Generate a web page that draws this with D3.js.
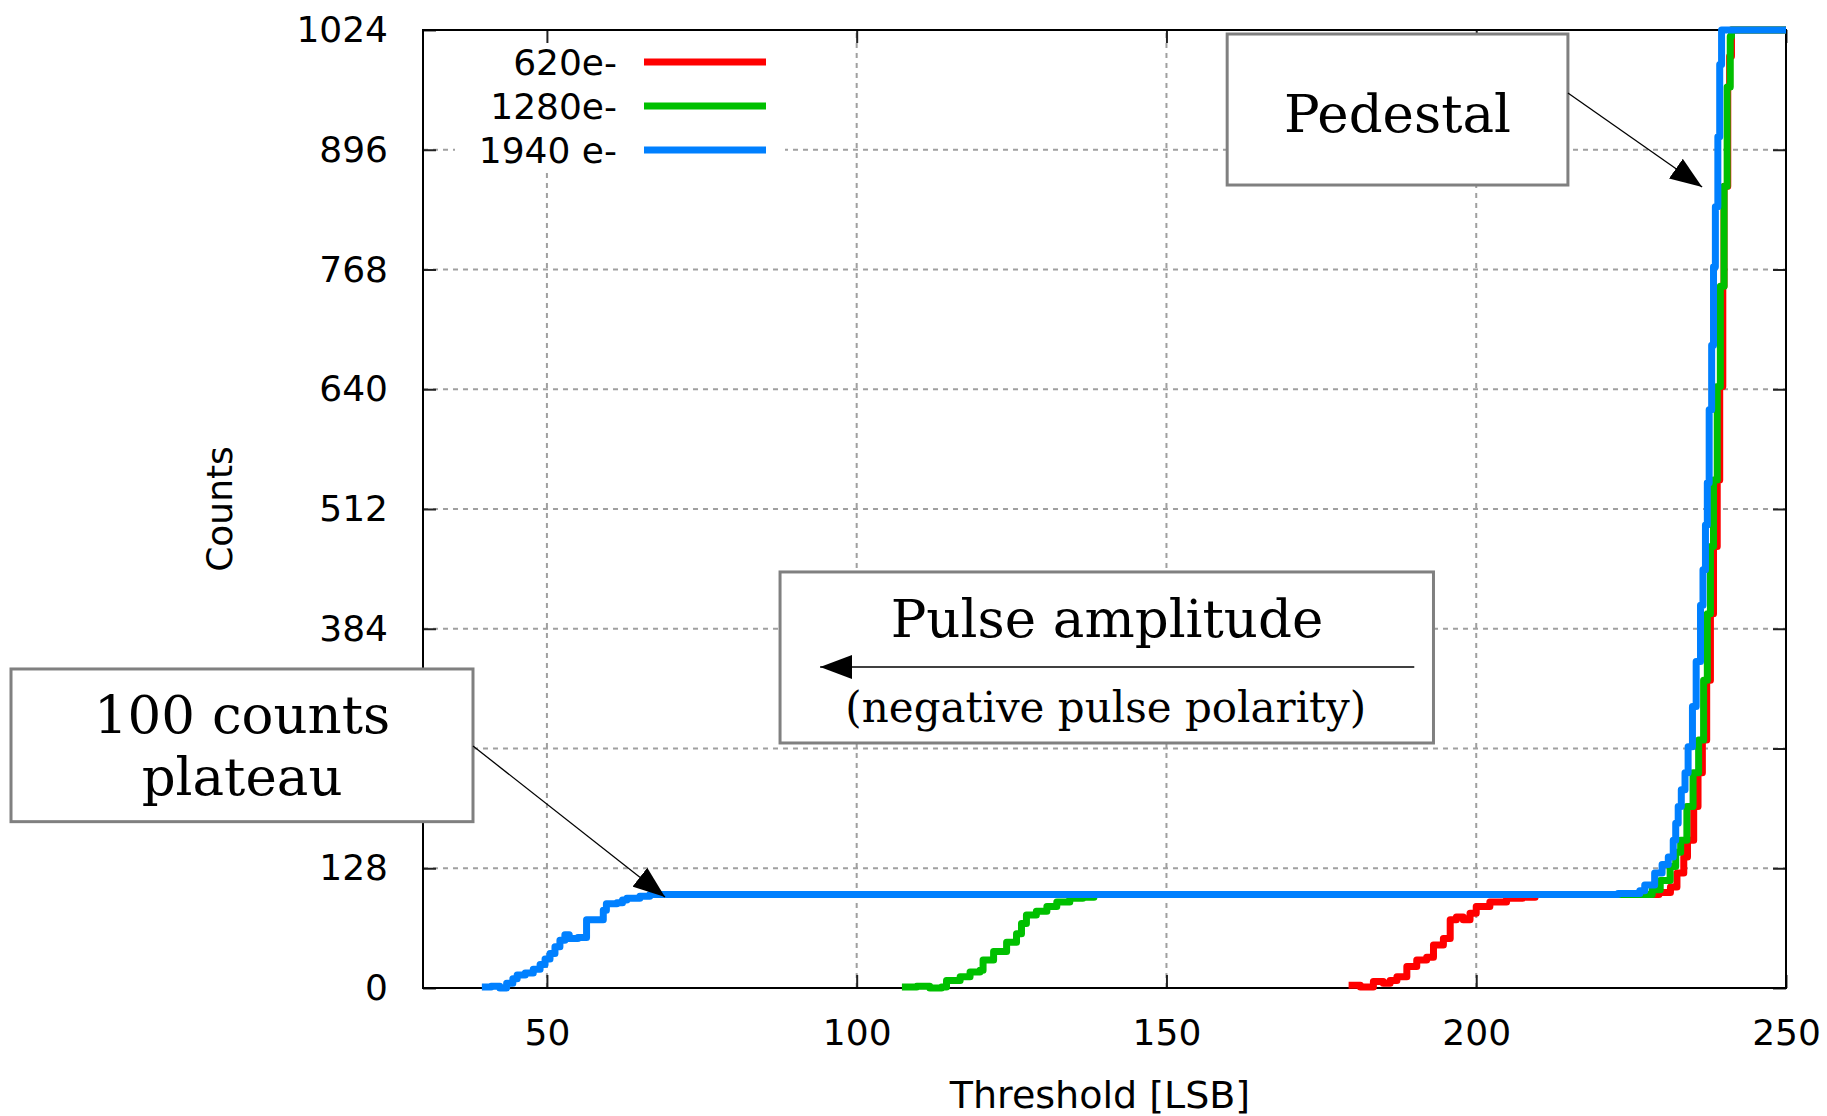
<!DOCTYPE html>
<html lang="en">
<head>
    <meta charset="utf-8">
    <title>Threshold scan</title>
    <script type="text/javascript" src="https://d3js.org/d3.v7.min.js"></script>
    <style>
        body { margin: 0; background: #fff; }
    </style>
</head>
<body>
    <script type="text/javascript">

        // series: threshold [LSB] and counts
        var seriesNames = ["620e-", "1280e-", "1940 e-"];
        var seriesColors = ["#ff0000", "#00c000", "#0080ff"];

        var redT = [179.4, 181.3, 183.4, 185.0, 186.1, 187.2, 188.8, 190.4, 192.0, 193.1, 194.7, 195.8, 196.8, 197.9, 199.0, 200.0, 202.2, 204.9, 207.5, 209.5,
                    229.5, 231.35, 232.4, 233.5, 234.1, 235.1, 235.8, 236.5, 237.2, 237.8, 238.3, 238.9, 239.3, 239.8, 240.0, 240.6, 240.9, 241.2, 250];
        var redC = [3, 1, 7, 5, 8, 12, 23, 30, 33, 46, 53, 73, 76, 73, 80, 87, 92, 96, 97, 100,
                    102, 108, 123, 140, 158, 194, 230, 265, 329, 400, 472, 543, 643, 750, 857, 963, 996, 1024, 1024];

        var greenT = [107.3, 109.7, 111.8, 113.7, 114.5, 116.7, 118.3, 119.9, 120.4, 122.1, 124.2, 125.8, 126.6, 127.4, 129.0, 130.7, 132.3, 134.4, 136.5, 138.3,
                      228.4, 229.7, 231.3, 232.2, 233.0, 234.0, 235.0, 235.9, 236.7, 237.3, 237.8, 238.3, 238.9, 239.4, 240.0, 240.5, 241.0, 241.2, 250];
        var greenC = [1, 2, 0, 1, 8, 12, 17, 19, 30, 39, 49, 58, 69, 78, 82, 87, 92, 96, 97, 100,
                      105, 115, 130, 145, 158, 194, 230, 265, 329, 400, 472, 543, 643, 750, 857, 963, 1017, 1024, 1024];

        var blueT = [39.5, 41.0, 42.4, 43.5, 44.5, 45.2, 46.5, 47.8, 48.9, 49.7, 50.5, 51.3, 52.1, 52.9, 53.6, 55.0, 56.4, 59.1, 59.6, 61.3, 62.2, 62.9, 65.0, 66.6,
                     222.9, 226.4, 227.2, 228.8, 230.0, 231.0, 231.8, 232.2, 232.6, 233.1, 233.7, 234.2, 234.9, 235.5, 236.2, 236.6, 237.0, 237.3, 237.6, 238.0, 238.3, 238.6, 239.0, 239.3, 239.6, 250];
        var blueC = [1, 2, 0, 5, 10, 14, 16, 20, 25, 31, 37, 44, 51, 57, 53, 54, 73, 83, 90, 91, 94, 96, 98, 100,
                     101, 104, 110, 123, 132, 140, 158, 176, 194, 212, 230, 258, 301, 349, 409, 447, 495, 540, 618, 687, 771, 835, 910, 987, 1024, 1024];

        var xTicks = [50, 100, 150, 200, 250];
        var yTicks = [0, 128, 256, 384, 512, 640, 768, 896, 1024];
        var hiddenYLabel = 256;   // covered by the "100 counts plateau" box

        var width = 1827, height = 1116;
        var margin = { top: 30, right: 41, bottom: 128, left: 423 };

        var x = d3.scaleLinear().domain([30, 250]).range([margin.left, width - margin.right]);
        var y = d3.scaleLinear().domain([0, 1024]).range([height - margin.bottom, margin.top]);

        var sans = "DejaVu Sans", serif = "DejaVu Serif";

        var svg = d3.select("body")
            .append("svg")
            .attr("width", width)
            .attr("height", height);

        var defs = svg.append("defs");
        defs.append("marker")
            .attr("id", "head")
            .attr("viewBox", "0 0 32 24")
            .attr("markerUnits", "userSpaceOnUse")
            .attr("markerWidth", 32)
            .attr("markerHeight", 24)
            .attr("refX", 32)
            .attr("refY", 12)
            .attr("orient", "auto")
            .append("path")
            .attr("d", "M0,0L32,12L0,24Z")
            .attr("fill", "#000");

        // grid
        svg.append("g").selectAll("line")
            .data(xTicks.filter(function (d) { return d < 250; }))
            .enter().append("line")
            .attr("x1", function (d) { return x(d); })
            .attr("x2", function (d) { return x(d); })
            .attr("y1", y(0)).attr("y2", y(1024))
            .attr("stroke", "#a0a0a0").attr("stroke-width", 2).attr("stroke-dasharray", "5,5");
        svg.append("g").selectAll("line")
            .data(yTicks.filter(function (d) { return d > 0 && d < 1024; }))
            .enter().append("line")
            .attr("y1", function (d) { return y(d); })
            .attr("y2", function (d) { return y(d); })
            .attr("x1", x(30)).attr("x2", x(250))
            .attr("stroke", "#a0a0a0").attr("stroke-width", 2).attr("stroke-dasharray", "5,5");

        // key background hides the grid
        svg.append("rect")
            .attr("x", 455).attr("y", 32).attr("width", 330).attr("height", 138)
            .attr("fill", "#fff");

        // axes, ticks pointing inwards and mirrored
        function styleAxis(g) {
            g.select(".domain").remove();
            g.selectAll(".tick line").attr("stroke", "#222").attr("stroke-width", 2);
            g.selectAll("text").attr("font-family", sans).attr("font-size", 36).attr("fill", "#000");
        }

        svg.append("g")
            .attr("transform", "translate(0," + y(0) + ")")
            .call(d3.axisBottom(x).tickValues(xTicks).tickSize(-13).tickPadding(31).tickFormat(d3.format("d")))
            .call(styleAxis);
        svg.append("g")
            .attr("transform", "translate(0," + y(1024) + ")")
            .call(d3.axisTop(x).tickValues(xTicks).tickSize(-13).tickFormat(""))
            .call(styleAxis);
        svg.append("g")
            .attr("transform", "translate(" + x(30) + ",0)")
            .call(d3.axisLeft(y).tickValues(yTicks).tickSize(-13).tickPadding(35)
                .tickFormat(function (d) { return d === hiddenYLabel ? "" : d3.format("d")(d); }))
            .call(styleAxis);
        svg.append("g")
            .attr("transform", "translate(" + x(250) + ",0)")
            .call(d3.axisRight(y).tickValues(yTicks).tickSize(-13).tickFormat(""))
            .call(styleAxis);

        svg.append("rect")
            .attr("x", x(30)).attr("y", y(1024))
            .attr("width", x(250) - x(30)).attr("height", y(0) - y(1024))
            .attr("fill", "none").attr("stroke", "#000").attr("stroke-width", 2);

        // axis titles
        svg.append("text")
            .attr("x", 1100).attr("y", 1108)
            .attr("text-anchor", "middle")
            .attr("font-family", sans).attr("font-size", 38)
            .text("Threshold [LSB]");
        svg.append("text")
            .attr("transform", "translate(232," + 509 + ") rotate(-90)")
            .attr("text-anchor", "middle")
            .attr("font-family", sans).attr("font-size", 36)
            .text("Counts");

        // curves
        var line = d3.line()
            .x(function (d) { return x(d[0]); })
            .y(function (d) { return y(d[1]); })
            .curve(d3.curveStepAfter);

        var series = [d3.zip(redT, redC), d3.zip(greenT, greenC), d3.zip(blueT, blueC)];

        svg.append("g").selectAll("path")
            .data(series)
            .enter().append("path")
            .attr("d", line)
            .attr("fill", "none")
            .attr("stroke", function (d, i) { return seriesColors[i]; })
            .attr("stroke-width", 7)
            .attr("stroke-linejoin", "round");

        // key
        var key = svg.append("g").selectAll("g")
            .data(seriesNames)
            .enter().append("g")
            .attr("transform", function (d, i) { return "translate(0," + (62 + i * 44) + ")"; });
        key.append("text")
            .attr("x", 617).attr("dy", "0.36em")
            .attr("text-anchor", "end")
            .attr("font-family", sans).attr("font-size", 36)
            .text(function (d) { return d; });
        key.append("line")
            .attr("x1", 644).attr("x2", 766)
            .attr("stroke", function (d, i) { return seriesColors[i]; })
            .attr("stroke-width", 7);

        // labels with boxes and arrows (data coordinates)
        function box(t0, t1, c0, c1) {
            svg.append("rect")
                .attr("x", x(t0)).attr("y", y(c0))
                .attr("width", x(t1) - x(t0)).attr("height", y(c1) - y(c0))
                .attr("fill", "#fff").attr("stroke", "#808080").attr("stroke-width", 3);
        }
        function label(t, c, size, txt) {
            svg.append("text")
                .attr("x", x(t)).attr("y", y(c))
                .attr("text-anchor", "middle")
                .attr("font-family", serif).attr("font-size", size)
                .text(txt);
        }
        function arrow(t0, c0, t1, c1) {
            svg.append("line")
                .attr("x1", x(t0)).attr("y1", y(c0))
                .attr("x2", x(t1)).attr("y2", y(c1))
                .attr("stroke", "#000").attr("stroke-width", 1.3)
                .attr("marker-end", "url(#head)");
        }

        box(159.8, 214.8, 1019.7, 858.3);
        label(187.3, 915, 53, "Pedestal");
        arrow(214.8, 956.7, 236.46, 856.2);

        box(87.63, 193.1, 444.7, 261.9);
        label(140.4, 375.2, 53, "Pulse amplitude");
        arrow(190.0, 343.1, 94.1, 343.1);
        label(140.2, 284.3, 42, "(negative pulse polarity)");

        box(-36.5, 38.07, 341, 177.8);
        label(0.8, 272.6, 53, "100 counts");
        label(0.8, 206.3, 53, "plateau");
        arrow(38.07, 258.7, 69.06, 97.3);

    </script>
</body>
</html>
